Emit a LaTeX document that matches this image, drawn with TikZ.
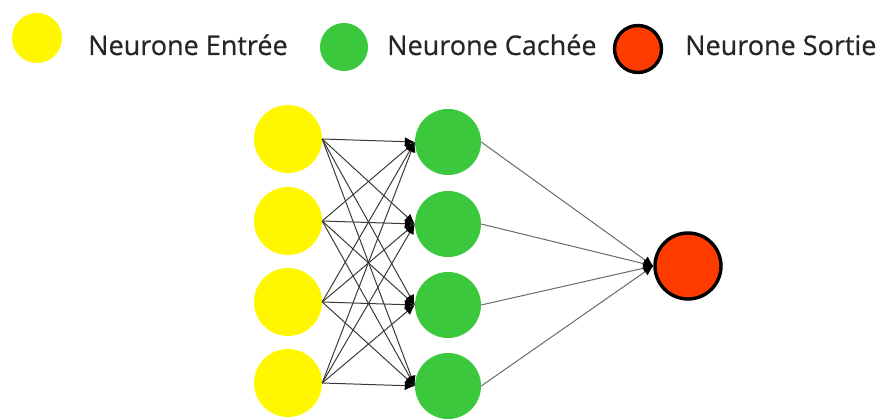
\documentclass[tikz,border=0pt]{standalone}
\usepackage{fontspec}
\setmainfont{Open Sans}
\newfontfamily\labelfont{Open Sans}[FakeBold=0.6]
\usetikzlibrary{arrows.meta}
\definecolor{inyellow}{HTML}{FFF700}
\definecolor{hidgreen}{HTML}{3CC83C}
\definecolor{outred}{HTML}{FF3C00}
\definecolor{labelgray}{HTML}{262626}
\definecolor{wirein}{HTML}{3A3A3A}
\definecolor{wireout}{HTML}{6A6A6A}
\begin{document}
\begin{tikzpicture}[x=1pt,y=-1pt,
  neuron/.style={circle, inner sep=0pt, minimum size=#1},
  inneuron/.style={neuron=#1, fill=inyellow},
  hidneuron/.style={neuron=#1, fill=hidgreen},
  outneuron/.style={neuron=#1, fill=outred, draw=black, line width=3.4pt},
  legendlabel/.style={anchor=base west, inner sep=0pt, text=labelgray,
    font=\labelfont\fontsize{27}{32}\selectfont},
  synapse/.style={draw=wirein, line width=1pt,
    -{Latex[length=10pt,width=9pt,black]}},
  synapseout/.style={draw=wireout, line width=1pt,
    -{Latex[length=10pt,width=9pt,black]}}]
\useasboundingbox (0,0) rectangle (880,419);

% legend
\node[inneuron=50] (legin) at (37,38) {};
\node[legendlabel] (legintxt) at (88,55) {Neurone Entrée};
\node[hidneuron=48] (leghid) at (344,47) {};
\node[legendlabel] (leghidtxt) at (387,55) {Neurone Cachée};
\node[outneuron=47] (legout) at (638,49) {};
\node[legendlabel] (legouttxt) at (685,55) {Neurone Sortie};

% input layer
\node[inneuron=68] (i1) at (288,139) {};
\node[inneuron=68] (i2) at (288,221) {};
\node[inneuron=68] (i3) at (288,302) {};
\node[inneuron=68] (i4) at (288,383) {};

% hidden layer
\node[hidneuron=66] (h1) at (448,142) {};
\node[hidneuron=66] (h2) at (448,224) {};
\node[hidneuron=66] (h3) at (448,305) {};
\node[hidneuron=66] (h4) at (448,386) {};

% output neuron
\node[outneuron=66] (o) at (688,266) {};

% fully connected input -> hidden
\foreach \i in {1,...,4}
  \foreach \j in {1,...,4}
    \draw[synapse] (i\i.east) -- (h\j.west);

% hidden -> output
\foreach \j in {1,...,4}
  \draw[synapseout] (h\j.east) -- (o.west);
\end{tikzpicture}
\end{document}
